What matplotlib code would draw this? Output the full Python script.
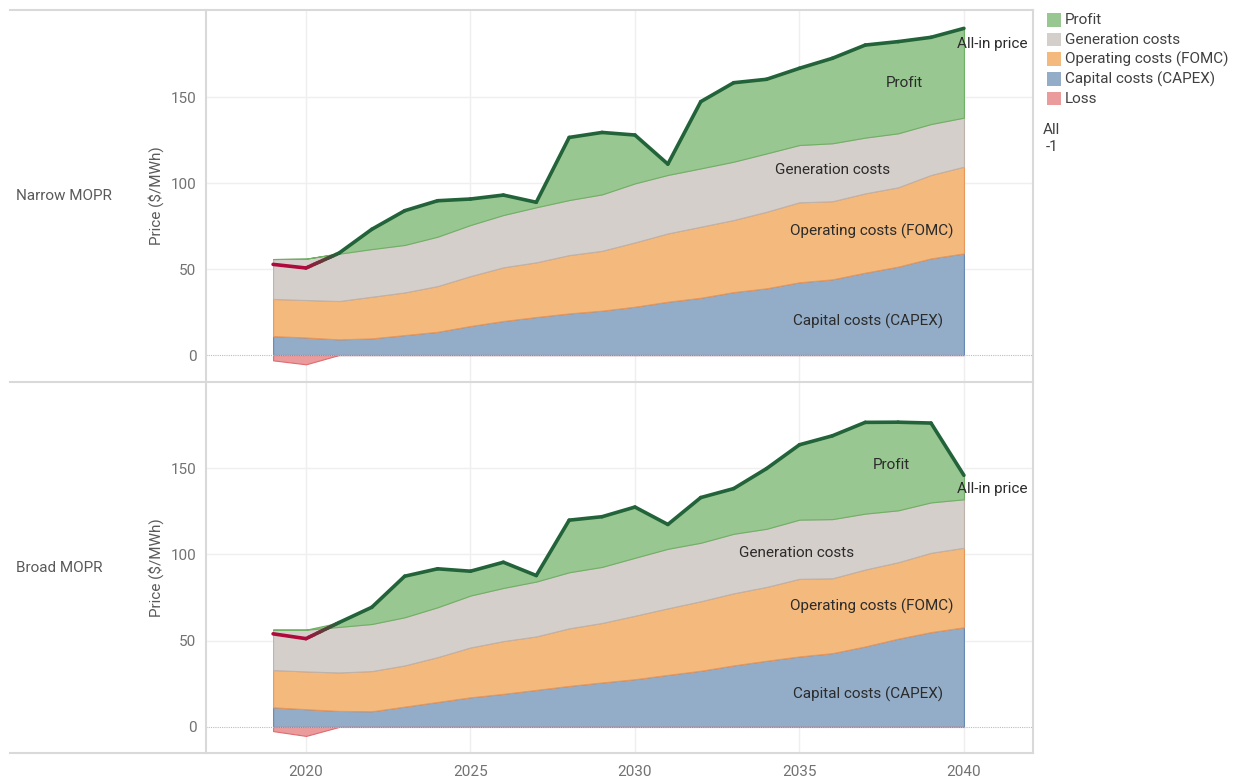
import numpy as np
import matplotlib
matplotlib.use("Agg")
import matplotlib.pyplot as plt
from matplotlib.lines import Line2D
from matplotlib.patches import Rectangle
from matplotlib.collections import LineCollection

plt.rcParams['font.family'] = ['Roboto', 'DejaVu Sans']

years = list(range(2019, 2041))

# Narrow MOPR, $/MWh per component
capex_narrow = [11.0, 10.2, 9.1, 9.7, 11.6, 13.5, 16.9, 19.8, 22.1, 24.2, 25.8,
                28.1, 31.0, 33.3, 36.6, 38.8, 42.3, 44.0, 47.9, 51.4, 56.2, 59.1]
fomc_narrow = [21.6, 21.8, 22.3, 24.2, 24.8, 26.6, 29.0, 31.2, 31.8, 33.9, 34.8,
               37.4, 39.7, 41.3, 41.9, 44.5, 46.5, 45.4, 46.1, 46.1, 48.5, 50.4]
gen_narrow = [23.2, 24.0, 27.5, 27.7, 27.6, 28.7, 29.7, 30.4, 32.0, 32.0, 32.8,
              34.3, 34.0, 33.9, 33.9, 33.9, 33.3, 33.7, 32.4, 31.4, 29.6, 28.5]
price_narrow = [52.7, 50.6, 59.2, 73.1, 83.9, 89.7, 90.7, 93.0, 88.8, 126.5, 129.4,
                127.9, 111.0, 147.3, 158.3, 160.3, 166.7, 172.5, 180.2, 182.2, 184.7, 189.9]

# Broad MOPR
capex_broad = [11.4, 10.3, 9.3, 9.1, 11.8, 14.5, 17.2, 19.2, 21.5, 23.8, 25.8,
               27.7, 30.2, 32.6, 35.7, 38.4, 40.9, 42.8, 46.7, 51.2, 55.0, 57.8]
fomc_broad = [21.6, 21.9, 22.3, 23.3, 23.9, 26.0, 28.9, 30.6, 31.0, 33.4, 34.5,
              36.8, 38.6, 40.3, 41.8, 42.8, 45.0, 43.4, 44.6, 44.3, 46.0, 46.1]
gen_broad = [23.4, 24.2, 26.4, 27.3, 27.9, 28.9, 30.1, 30.8, 31.8, 32.5, 32.5,
             33.6, 34.5, 33.9, 34.5, 33.7, 34.3, 34.3, 32.4, 30.1, 29.2, 28.1]
price_broad = [54.0, 51.2, 60.5, 69.4, 87.4, 91.7, 90.3, 95.5, 87.8, 119.9, 121.9,
               127.5, 117.4, 133.0, 138.2, 149.8, 163.6, 168.8, 176.6, 176.7, 176.2, 145.9]

rows = ['Narrow MOPR', 'Broad MOPR']
legend_names = ['Profit', 'Generation costs', 'Operating costs (FOMC)',
                'Capital costs (CAPEX)', 'Loss']
xticks = [2020, 2025, 2030, 2035, 2040]
yticks = [0, 50, 100, 150]

# colours
c_profit, e_profit = '#98c791', '#6fb063'
c_gen, e_gen = '#d5cfcb', '#bdb3ad'
c_fomc, e_fomc = '#f4b97c', '#e9975a'
c_capex, e_capex = '#93adc8', '#6688b3'
c_loss, e_loss = '#ea9b9b', '#e06a70'
line_green = '#23633a'
line_red = '#b0093b'
frame = '#d9d9d9'
grid = '#efefef'
ink = '#2b2b2b'

W, H = 1236, 779
fig = plt.figure(figsize=(W / 100, H / 100), dpi=100)


def fx(px):
    return px / W


def fy(py):
    return 1 - py / H


panels = [
    (capex_narrow, fomc_narrow, gen_narrow, price_narrow, 11, 381,
     [(2038.2, 158, 'Profit'), (2036.0, 107.5, 'Generation costs'),
      (2037.2, 72, 'Operating costs (FOMC)'), (2037.1, 19.8, 'Capital costs (CAPEX)')],
     181),
    (capex_broad, fomc_broad, gen_broad, price_broad, 382, 753,
     [(2037.8, 152, 'Profit'), (2034.9, 100.6, 'Generation costs'),
      (2037.2, 69.8, 'Operating costs (FOMC)'), (2037.1, 19.2, 'Capital costs (CAPEX)')],
     137.8),
]

x = np.array(years)
for k, (capex, fomc, gen, price, top, bot, labels, price_y) in enumerate(panels):
    ax = fig.add_axes([fx(206), fy(bot), fx(1033) - fx(206), fy(top) - fy(bot)])
    capex = np.array(capex)
    fomc = np.array(fomc)
    gen = np.array(gen)
    price = np.array(price)
    s1 = capex
    s2 = s1 + fomc
    s3 = s2 + gen
    diff = price - s3
    profit = np.clip(diff, 0, None)
    loss = np.clip(diff, None, 0)

    ax.fill_between(x, 0, s1, facecolor=c_capex, edgecolor=e_capex, lw=0.8, zorder=3)
    ax.fill_between(x, s1, s2, facecolor=c_fomc, edgecolor=e_fomc, lw=0.8, zorder=3)
    ax.fill_between(x, s2, s3, facecolor=c_gen, edgecolor=e_gen, lw=0.8, zorder=3)
    ax.fill_between(x, s3, s3 + profit, facecolor=c_profit, edgecolor=e_profit, lw=0.8, zorder=3)
    ax.fill_between(x, 0, loss, facecolor=c_loss, edgecolor=e_loss, lw=0.8, zorder=3)

    # all-in price line, red where the year is a loss, green otherwise
    cols = [np.array(matplotlib.colors.to_rgb(line_red if d < 0 else line_green)) for d in diff]
    segs = []
    seg_cols = []
    for i in range(len(x) - 1):
        n = 12 if not np.allclose(cols[i], cols[i + 1]) else 1
        t = np.linspace(0, 1, n + 1)
        xs = x[i] + (x[i + 1] - x[i]) * t
        ys = price[i] + (price[i + 1] - price[i]) * t
        for j in range(n):
            segs.append([(xs[j], ys[j]), (xs[j + 1], ys[j + 1])])
            m = (t[j] + t[j + 1]) / 2
            seg_cols.append(cols[i] * (1 - m) + cols[i + 1] * m)
    ax.add_collection(LineCollection(segs, colors=seg_cols, linewidths=2.6,
                                     capstyle='round', joinstyle='round', zorder=5))

    for (lx, ly, txt) in labels:
        ax.text(lx, ly, txt, ha='center', va='center', fontsize=11, color=ink, zorder=6)
    ax.text(2039.8, price_y, 'All-in price', ha='left', va='center', fontsize=11,
            color=ink, zorder=6, clip_on=False)

    ax.set_xlim(2016.96, 2042.1)
    ax.set_ylim(-15.1, 200)
    ax.set_xticks(xticks)
    ax.set_yticks(yticks)
    for t in xticks:
        ax.axvline(t, color=grid, lw=1, zorder=0)
    for t in yticks[1:]:
        ax.axhline(t, color=grid, lw=1, zorder=0)
    ax.axhline(0, color='#bdbdbd', lw=0.8, ls=(0, (1, 1)), zorder=4)
    for s in ax.spines.values():
        s.set_visible(False)
    ax.tick_params(length=0, labelsize=11, labelcolor='#727272', pad=7)
    if k == 0:
        ax.tick_params(labelbottom=False)
    else:
        ax.tick_params(axis='x', pad=9)
    ax.patch.set_alpha(0)

    mid = (top + bot) / 2
    fig.text(fx(156), fy(mid), 'Price ($/MWh)', rotation=90, ha='center', va='center',
             fontsize=11, color='#5a5a5a')
    fig.text(fx(16), fy(mid), rows[k], ha='left', va='center', fontsize=11, color='#5a5a5a')

# frame lines around the panels
for py in [10, 381.5, 753]:
    fig.add_artist(Line2D([fx(10), fx(1033)], [fy(py), fy(py)], color=frame, lw=1.5))
for px in [206, 1033]:
    fig.add_artist(Line2D([fx(px), fx(px)], [fy(10), fy(753)], color=frame, lw=1.5))

# colour legend
legend_cols = [c_profit, c_gen, c_fomc, c_capex, c_loss]
for i, (name, c) in enumerate(zip(legend_names, legend_cols)):
    yc = 20 + i * 19.7
    fig.add_artist(Rectangle((fx(1047), fy(yc + 6.5)), fx(14), 13.5 / H,
                             facecolor=c, edgecolor='none'))
    fig.text(fx(1065), fy(yc), name, ha='left', va='center', fontsize=11, color='#404040')
fig.text(fx(1043), fy(130), 'All', ha='left', va='center', fontsize=11, color='#404040')
fig.text(fx(1046), fy(147), '-1', ha='left', va='center', fontsize=11, color='#404040')

fig.savefig('out.png', dpi=100)
